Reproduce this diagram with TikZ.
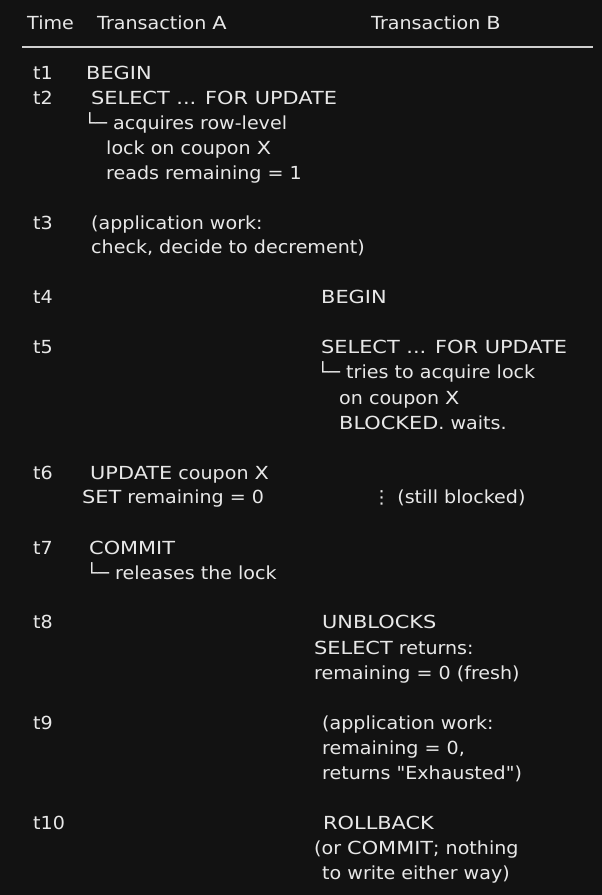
\documentclass[tikz,border=0pt]{standalone}
\usepackage{fontspec}
\setmainfont[FakeStretch=1.06,Ligatures=TeXOff]{DejaVu Sans}
\newfontfamily\capsfont[FakeStretch=1.16,Ligatures=TeXOff]{DejaVu Sans}
\newcommand\UC[1]{{\capsfont #1}}
\definecolor{bgc}{HTML}{121212}
\definecolor{fgc}{HTML}{E8E8E8}
\definecolor{rulec}{HTML}{CFCFCF}
\begin{document}
\begin{tikzpicture}[x=1pt,y=-1pt,
  txt/.style={anchor=base west,inner sep=0pt,text=fgc,font=\fontsize{18}{22}\selectfont}]
\fill[bgc] (0,0) rectangle (602,895);
\useasboundingbox (0,0) rectangle (602,895);
% header
\node[txt] (hTime) at (27,29) {Time};
\node[txt] (hA) at (97,29) {Transaction \UC{A}};
\node[txt] (hB) at (371,29) {Transaction \UC{B}};
\coordinate (rl) at (22,47);
\coordinate (rr) at (593,47);
\draw[rulec,line width=1.6pt] (rl) -- (rr);
% time labels
\node[txt] (t1) at (33,79) {t1};
\node[txt] (t2) at (33,104) {t2};
\node[txt] (t3) at (33,229) {t3};
\node[txt] (t4) at (33,303) {t4};
\node[txt] (t5) at (33,353) {t5};
\node[txt] (t6) at (33,479) {t6};
\node[txt] (t7) at (33,554) {t7};
\node[txt] (t8) at (33,628) {t8};
\node[txt] (t9) at (33,729) {t9};
\node[txt] (t10) at (33,829) {t10};
% transaction A
\node[txt] (a1) at (86,79) {\UC{BEGIN}};
\node[txt] (a2) at (91,104) {\UC{SELECT ... FOR UPDATE}};
\node[txt] (a2b) at (84,129) {└─ acquires row-level};
\node[txt] (a2c) at (106,154) {lock on coupon \UC{X}};
\node[txt] (a2d) at (106,179) {reads remaining = 1};
\node[txt] (a3) at (91,229) {(application work:};
\node[txt] (a3b) at (91,253) {check, decide to decrement)};
\node[txt] (a6) at (90,479) {\UC{UPDATE} coupon \UC{X}};
\node[txt] (a6b) at (82,503) {\UC{SET} remaining = 0};
\node[txt] (a7) at (89,554) {\UC{COMMIT}};
\node[txt] (a7b) at (86,579) {└─ releases the lock};
% transaction B
\node[txt] (b4) at (321,303) {\UC{BEGIN}};
\node[txt] (b5) at (321,353) {\UC{SELECT ... FOR UPDATE}};
\node[txt] (b5b) at (317,378) {└─ tries to acquire lock};
\node[txt] (b5c) at (339,404) {on coupon \UC{X}};
\node[txt] (b5d) at (339,429) {\UC{BLOCKED}. waits.};
\node[txt] (b6) at (372,503) {⋮\ (still blocked)};
\node[txt] (b8) at (322,628) {\UC{UNBLOCKS}};
\node[txt] (b8b) at (314,654) {\UC{SELECT} returns:};
\node[txt] (b8c) at (314,679) {remaining = 0 (fresh)};
\node[txt] (b9) at (322,729) {(application work:};
\node[txt] (b9b) at (322,754) {remaining = 0,};
\node[txt] (b9c) at (322,779) {returns "Exhausted")};
\node[txt] (b10) at (323,829) {\UC{ROLLBACK}};
\node[txt] (b10b) at (314,854) {(or \UC{COMMIT}; nothing};
\node[txt] (b10c) at (322,879) {to write either way)};
\end{tikzpicture}
\end{document}
